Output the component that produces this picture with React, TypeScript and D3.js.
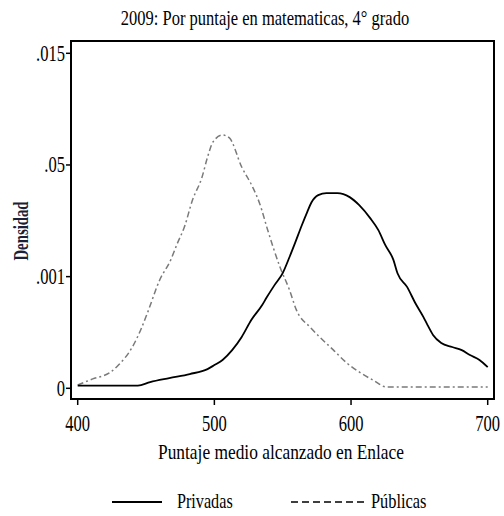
import React from 'react';
import * as d3 from 'd3';

// Kernel density estimates (puntaje, densidad)
const privadasX = [400, 444, 453, 467, 482, 495, 500, 506, 513, 520, 527, 535, 538, 544, 550, 555, 559, 564, 568, 571, 576, 582, 590, 599, 606, 614, 620, 625, 631, 634, 641, 647, 653, 656, 660, 666, 674, 681, 687, 694, 700];
const privadasY = [0.00012, 0.00012, 0.00028, 0.00046, 0.00064, 0.00086, 0.00104, 0.00127, 0.00171, 0.0023, 0.00306, 0.00373, 0.00404, 0.00462, 0.00516, 0.00588, 0.0065, 0.0073, 0.0079, 0.00832, 0.00865, 0.00874, 0.00874, 0.00856, 0.0082, 0.00762, 0.00708, 0.00642, 0.00575, 0.00515, 0.00454, 0.00382, 0.00319, 0.00283, 0.00239, 0.00203, 0.00185, 0.00171, 0.00149, 0.00127, 0.00095];

const publicasX = [400, 411, 424, 430, 440, 446, 451, 460, 468, 473, 478, 484, 491, 495, 499, 506, 511, 520, 528, 533, 539, 543, 548, 555, 560, 570, 577, 587, 597, 607, 616, 626, 700];
const publicasY = [0.00015, 0.00042, 0.00072, 0.00105, 0.00185, 0.0026, 0.00337, 0.00485, 0.00574, 0.0065, 0.00721, 0.00843, 0.00946, 0.01035, 0.01103, 0.01134, 0.01121, 0.00991, 0.00901, 0.0083, 0.00709, 0.00632, 0.00543, 0.0044, 0.00351, 0.00274, 0.0023, 0.00172, 0.00113, 0.00069, 0.00037, 0.00006, 0.00006];

const xTicks = [400, 500, 600, 700];
const yTicks = [0, 0.005, 0.01, 0.015];
const yTickLabels = ['0', '.001', '.05', '.015'];

const title = '2009: Por puntaje en matematicas, 4° grado';
const xTitle = 'Puntaje medio alcanzado en Enlace';
const yTitle = 'Densidad';
const seriesNames = ['Privadas', 'Públicas'];

const W = 504;
const H = 516;
const frame = { left: 71, top: 41, right: 494, bottom: 399 };
const font = "'Liberation Serif', 'Times New Roman', Times, serif";

const App: React.FC = () => {
  const x = d3.scaleLinear().domain([400, 700]).range([77.7, 487.7]);
  const y = d3.scaleLinear().domain([0, 0.015]).range([388.3, 53.3]);

  const line = d3.line<[number, number]>()
    .x(d => x(d[0]))
    .y(d => y(d[1]))
    .curve(d3.curveMonotoneX);

  const priv = line(privadasX.map((v, i) => [v, privadasY[i]] as [number, number])) || '';
  const pub = line(publicasX.map((v, i) => [v, publicasY[i]] as [number, number])) || '';

  return (
    <svg width={W} height={H} style={{ position: 'absolute', left: 0, top: 0, background: '#fff', fontFamily: font }}>
      {/* title */}
      <text transform={`translate(265,25) scale(0.75,1)`} textAnchor="middle" fontSize={22} fill="#000">{title}</text>

      {/* curves */}
      <path d={pub} fill="none" stroke="#7a7a7a" strokeWidth={1.5} strokeDasharray="6,3,2,3" />
      <path d={priv} fill="none" stroke="#000" strokeWidth={1.8} />

      {/* frame */}
      <rect x={frame.left} y={frame.top} width={frame.right - frame.left} height={frame.bottom - frame.top}
        fill="none" stroke="#000" strokeWidth={2} />

      {/* y axis */}
      {yTicks.map((t, i) => (
        <g key={t}>
          <line x1={frame.left - 5} x2={frame.left} y1={y(t)} y2={y(t)} stroke="#000" strokeWidth={1.5} />
          <text transform={`translate(${frame.left - 6},${y(t) + 7.5}) scale(0.72,1)`} textAnchor="end" fontSize={23} fill="#000">
            {yTickLabels[i]}
          </text>
        </g>
      ))}
      <text transform={`translate(28,231) rotate(-90) scale(0.74,1)`} textAnchor="middle" fontSize={20}
        fontWeight="bold" fill="#1a1f3a">{yTitle}</text>

      {/* x axis */}
      {xTicks.map(t => (
        <g key={t}>
          <line x1={x(t)} x2={x(t)} y1={frame.bottom} y2={frame.bottom + 6} stroke="#000" strokeWidth={1.5} />
          <text transform={`translate(${x(t)},431) scale(0.72,1)`} textAnchor="middle" fontSize={23} fill="#000">{t}</text>
        </g>
      ))}
      <text transform={`translate(281,459) scale(0.79,1)`} textAnchor="middle" fontSize={22} fill="#000">{xTitle}</text>

      {/* legend */}
      <line x1={112} x2={162} y1={502} y2={502} stroke="#000" strokeWidth={1.8} />
      <text transform={`translate(177,508) scale(0.77,1)`} fontSize={21} fill="#000">{seriesNames[0]}</text>
      <line x1={291} x2={368} y1={502} y2={502} stroke="#000" strokeWidth={1.5} strokeDasharray="7,4" />
      <text transform={`translate(371,508) scale(0.78,1)`} fontSize={21} fill="#000">{seriesNames[1]}</text>
    </svg>
  );
};

export default App;
